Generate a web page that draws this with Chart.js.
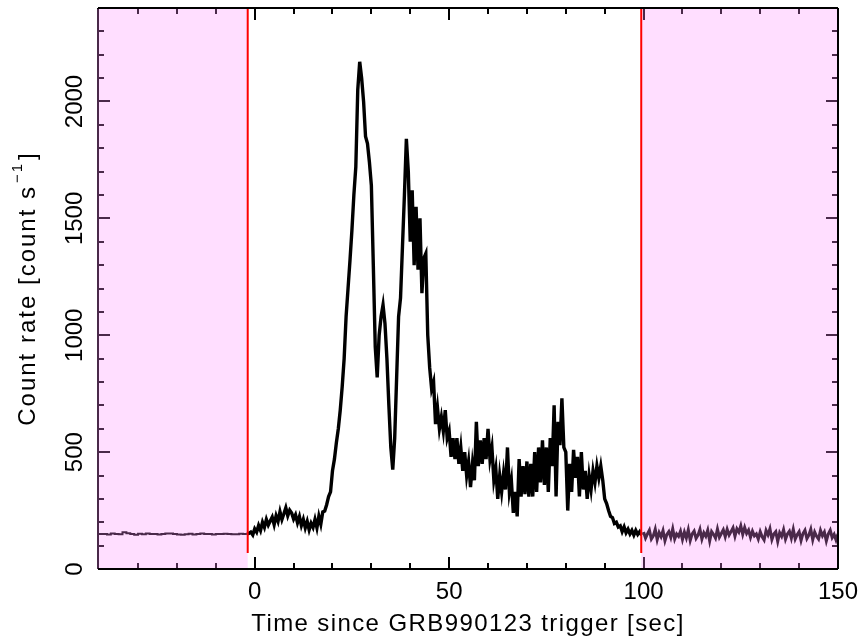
<!DOCTYPE html>
<html>
<head>
<meta charset="utf-8">
<title>GRB990123 light curve</title>
<script src="https://cdn.jsdelivr.net/npm/chart.js@4.4.0/dist/chart.umd.min.js"></script>
<style>
  html, body { margin: 0; padding: 0; background: #ffffff; }
</style>
</head>
<body>
<canvas id="chartjs-0" width="864" height="641"></canvas>
<script>
"use strict";

// background before the trigger, 1 s bins starting at -41 s
var preStart = -41;
var preStep = 1;
var preRate = [150, 150, 150, 148, 152, 150, 149, 157, 153, 150,
               147, 151, 149, 152, 150, 150, 148, 150, 152, 152,
               150, 148, 146, 149, 151, 148, 150, 152, 150, 150,
               148, 150, 150, 151, 150, 149, 149, 151, 150, 150];

// burst, 0.5 s bins starting at -2 s (each row is 5 s)
var burstStart = -2;
var burstStep = 0.5;
var burstRate = [
  150, 152, 158, 146, 172, 158, 186, 165, 200, 178,        // -2
  212, 188, 205, 222, 190, 228, 204, 245, 212, 236,        // 3
  262, 228, 252, 240, 214, 232, 198, 224, 186, 212,        // 8
  176, 204, 168, 196, 178, 212, 176, 226, 192, 244,        // 13
  248, 275, 310, 330, 420, 470, 540, 600, 680, 780,        // 18
  900, 1080, 1200, 1320, 1450, 1600, 1720, 2050, 2170, 2100, // 23
  2000, 1850, 1820, 1740, 1640, 1300, 950, 820, 1000, 1080, // 28
  1130, 1050, 900, 700, 520, 425, 560, 820, 1080, 1160,    // 33
  1380, 1600, 1840, 1700, 1400, 1620, 1300, 1550, 1280, 1500, // 38
  1180, 1330, 1350, 1000, 860, 770, 800, 620, 690, 600,    // 43
  650, 590, 680, 560, 590, 480, 560, 470, 560, 450,        // 48
  520, 420, 500, 400, 460, 350, 450, 380, 630, 440,        // 53
  550, 450, 560, 470, 600, 470, 520, 380, 430, 300,        // 58
  400, 330, 410, 340, 520, 330, 380, 240, 330, 225,        // 63
  470, 310, 440, 320, 460, 310, 450, 310, 500, 330,        // 68
  520, 370, 550, 360, 520, 330, 560, 440, 700, 310,        // 73
  630, 530, 730, 520, 500, 250, 450, 330, 510, 390,        // 78
  480, 310, 500, 340, 420, 300, 400, 340, 420, 370,        // 83
  440, 390, 440, 380, 300, 280, 250, 225, 220, 195,        // 88
  200, 180, 185, 160, 180, 155, 170, 150, 165, 145,        // 93
  165, 148, 160, 145                                       // 98
];

// background after the burst, 0.5 s bins starting at 100 s
var postStart = 100;
var postStep = 0.5;
var postRate = [
  158, 132, 150, 166, 128, 142, 170, 125, 156, 138,   // 100
  164, 121, 148, 160, 135, 172, 128, 150, 140, 162,   // 105
  126, 158, 133, 168, 122, 150, 162, 131, 145, 170,   // 110
  128, 155, 140, 166, 120, 160, 148, 132, 171, 136,   // 115
  152, 168, 138, 170, 145, 160, 176, 140, 172, 158,   // 120
  185, 148, 178, 152, 166, 135, 162, 142, 150, 128,   // 125
  160, 138, 124, 165, 146, 172, 126, 150, 160, 118,   // 130
  155, 140, 168, 127, 150, 162, 132, 170, 128, 147,   // 135
  160, 122, 152, 166, 130, 145, 170, 125, 158, 140,   // 140
  128, 165, 142, 158, 120, 150, 166, 134, 148, 124,   // 145
  150                                                 // 150
];

var xTickValues = [0, 50, 100, 150];
var yTickValues = [0, 500, 1000, 1500, 2000];
var windowStart = -1.8;   // red lines, edges of the burst window
var windowEnd = 99.4;
var redLineBottom = 68;

var xTitle = "Time since GRB990123 trigger [sec]";
var yTitle = "Count rate [count s";
var yTitleSup = "\u22121";

var fontFamily = "'Liberation Sans', Arial, sans-serif";

function toPoints(start, step, rates) {
    var pts = [];
    for (var i = 0; i < rates.length; i++) {
        pts.push({ x: start + i * step, y: rates[i] });
    }
    return pts;
}

function line(ctx, x1, y1, x2, y2) {
    ctx.beginPath();
    ctx.moveTo(x1, y1);
    ctx.lineTo(x2, y2);
    ctx.stroke();
}

var framePlugin = {
    id: "frame",
    afterDatasetsDraw: function (chart) {
        var ctx = chart.ctx;
        var a = chart.chartArea;
        var xs = chart.scales.x;
        var ys = chart.scales.y;
        ctx.save();

        // ticks pointing inwards on all four sides
        ctx.strokeStyle = "#000";
        ctx.lineWidth = 2;
        for (var t = -30; t < 150; t += 10) {
            var px = Math.round(xs.getPixelForValue(t));
            var len = (t % 50 === 0) ? 12 : 6;
            line(ctx, px, a.bottom, px, a.bottom - len);
            line(ctx, px, a.top, px, a.top + len);
        }
        for (var v = 100; v < 2400; v += 100) {
            var py = Math.round(ys.getPixelForValue(v));
            var ylen = (v % 500 === 0) ? 12 : 6;
            line(ctx, a.left, py, a.left + ylen, py);
            line(ctx, a.right, py, a.right - ylen, py);
        }
        line(ctx, a.left, a.top, a.left, a.bottom);

        // shaded background intervals
        var xl = xs.getPixelForValue(windowStart);
        var xr = xs.getPixelForValue(windowEnd);
        ctx.fillStyle = "rgba(255, 140, 255, 0.29)";
        ctx.fillRect(a.left - 1, a.top + 1, xl - a.left + 1, a.bottom - a.top - 1);
        ctx.fillRect(xr, a.top + 1, a.right - xr - 1, a.bottom - a.top - 1);

        // red window lines
        var yb = ys.getPixelForValue(redLineBottom);
        ctx.strokeStyle = "#ff0000";
        ctx.lineWidth = 2;
        line(ctx, xl, a.top, xl, yb);
        line(ctx, xr, a.top, xr, yb);

        // frame
        ctx.strokeStyle = "#000";
        ctx.lineWidth = 2;
        line(ctx, a.left, a.bottom, a.right, a.bottom);
        line(ctx, a.right, a.top, a.right, a.bottom);
        line(ctx, a.left, a.top, a.right, a.top);

        // rotated y tick labels
        ctx.fillStyle = "#000";
        ctx.font = "24px " + fontFamily;
        ctx.textAlign = "center";
        ctx.textBaseline = "alphabetic";
        for (var k = 0; k < yTickValues.length; k++) {
            var ty = ys.getPixelForValue(yTickValues[k]);
            ctx.save();
            ctx.translate(82, ty);
            ctx.rotate(-Math.PI / 2);
            ctx.fillText(String(yTickValues[k]), 0, 0);
            ctx.restore();
        }

        // x title, spaced out a little
        ctx.save();
        ctx.font = "24px " + fontFamily;
        ctx.letterSpacing = "1.4px";
        ctx.textAlign = "left";
        var wx = ctx.measureText(xTitle).width;
        ctx.fillText(xTitle, (a.left + a.right) / 2 - wx / 2, 631);
        ctx.restore();

        // y title with superscript
        ctx.save();
        ctx.translate(35, (a.top + a.bottom) / 2);
        ctx.rotate(-Math.PI / 2);
        ctx.textAlign = "left";
        ctx.letterSpacing = "2px";
        ctx.font = "24px " + fontFamily;
        var w1 = ctx.measureText(yTitle).width;
        var w3 = ctx.measureText("]").width;
        ctx.font = "15px " + fontFamily;
        var w2 = ctx.measureText(yTitleSup).width;
        var x0 = -(w1 + w2 + w3 + 4) / 2;
        ctx.font = "24px " + fontFamily;
        ctx.fillText(yTitle, x0, 0);
        ctx.font = "15px " + fontFamily;
        ctx.fillText(yTitleSup, x0 + w1 + 2, -13);
        ctx.font = "24px " + fontFamily;
        ctx.fillText("]", x0 + w1 + w2 + 4, 0);
        ctx.restore();

        ctx.restore();
    }
};

var ctx0 = document.getElementById("chartjs-0");
var myChart = new Chart(ctx0, {
    type: "line",
    data: {
        datasets: [
            { label: "pre", data: toPoints(preStart, preStep, preRate), borderWidth: 2, stepped: true },
            { label: "burst", data: toPoints(burstStart, burstStep, burstRate), borderWidth: 3.4 },
            { label: "post", data: toPoints(postStart, postStep, postRate), borderWidth: 3 }
        ]
    },
    options: {
        responsive: false,
        animation: false,
        parsing: false,
        layout: { padding: { left: 0, top: 8, right: 26, bottom: 0 } },
        elements: {
            line: { borderColor: "#000", tension: 0, borderJoinStyle: "miter" },
            point: { radius: 0 }
        },
        plugins: {
            legend: { display: false },
            tooltip: { enabled: false }
        },
        scales: {
            x: {
                type: "linear",
                min: -40.3,
                max: 150,
                afterBuildTicks: function (scale) {
                    scale.ticks = xTickValues.map(function (v) { return { value: v }; });
                },
                afterFit: function (scale) {
                    scale.height = 72;
                    scale.paddingLeft = 0;
                    scale.paddingRight = 0;
                },
                grid: { display: false, drawTicks: false },
                border: { display: false },
                ticks: {
                    color: "#000",
                    font: { family: fontFamily, size: 24 },
                    padding: 9,
                    maxRotation: 0,
                    autoSkip: false
                }
            },
            y: {
                type: "linear",
                min: 0,
                max: 2400,
                afterFit: function (scale) {
                    scale.width = 98;
                    scale.paddingTop = 0;
                    scale.paddingBottom = 0;
                },
                grid: { display: false, drawTicks: false },
                border: { display: false },
                ticks: { display: false }
            }
        }
    },
    plugins: [framePlugin]
});
</script>
</body>
</html>
